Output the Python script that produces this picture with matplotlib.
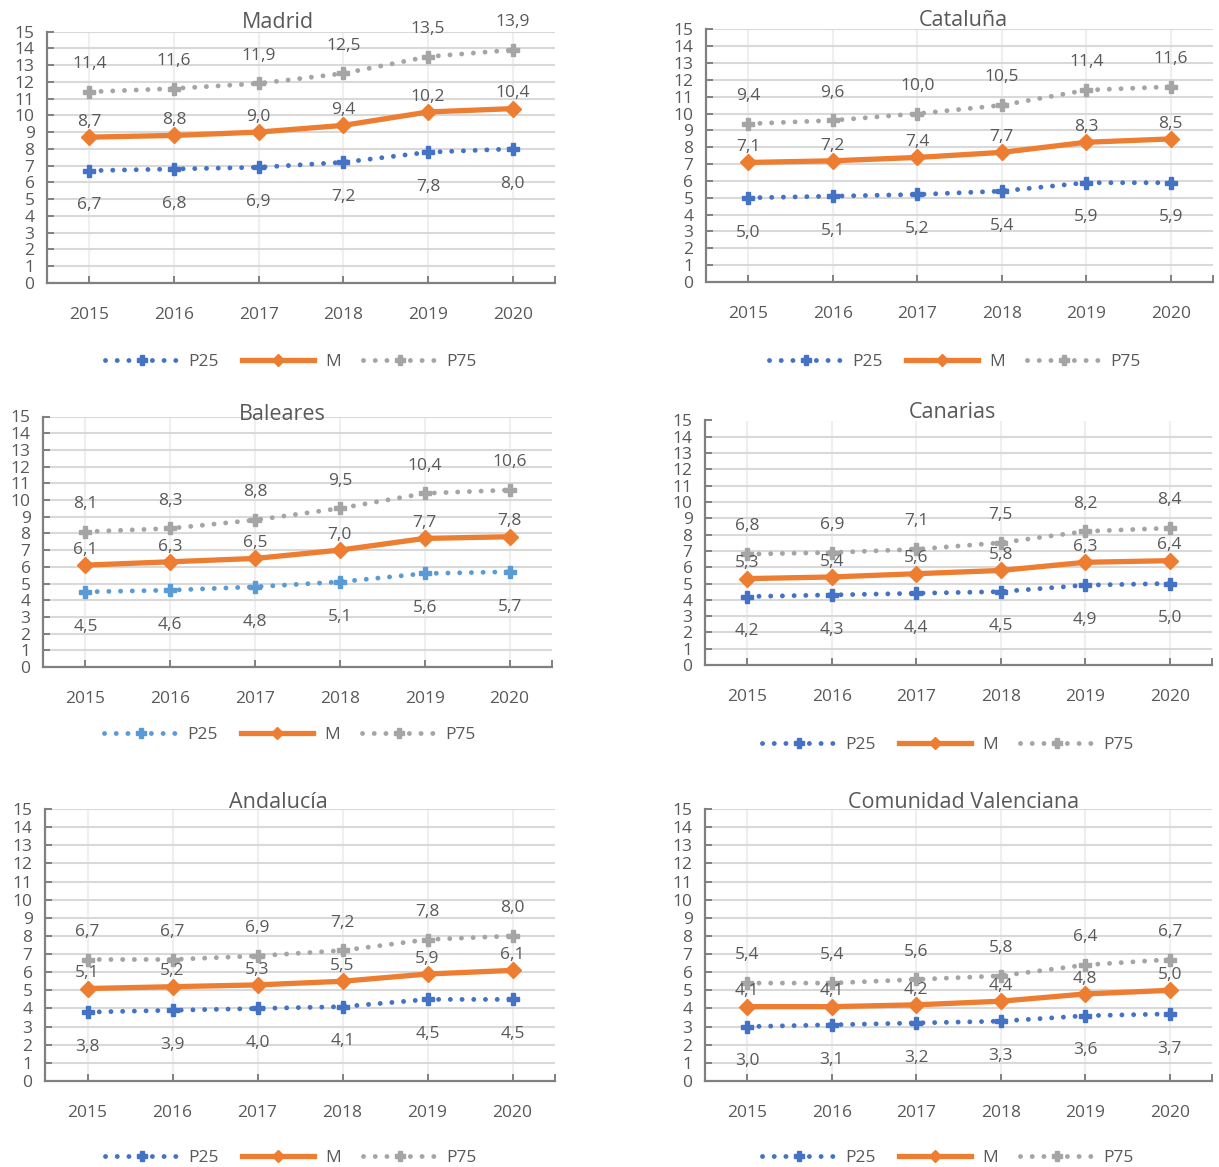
import matplotlib
matplotlib.use('Agg')
import matplotlib.pyplot as plt
import numpy as np

plt.rcParams['font.family'] = ['Open Sans', 'DejaVu Sans']

# Data
years = ['2015', '2016', '2017', '2018', '2019', '2020']
regions = ['Madrid', 'Cataluña', 'Baleares', 'Canarias', 'Andalucía', 'Comunidad Valenciana']

madrid_p25 = [6.7, 6.8, 6.9, 7.2, 7.8, 8.0]
madrid_m = [8.7, 8.8, 9.0, 9.4, 10.2, 10.4]
madrid_p75 = [11.4, 11.6, 11.9, 12.5, 13.5, 13.9]

cataluna_p25 = [5.0, 5.1, 5.2, 5.4, 5.9, 5.9]
cataluna_m = [7.1, 7.2, 7.4, 7.7, 8.3, 8.5]
cataluna_p75 = [9.4, 9.6, 10.0, 10.5, 11.4, 11.6]

baleares_p25 = [4.5, 4.6, 4.8, 5.1, 5.6, 5.7]
baleares_m = [6.1, 6.3, 6.5, 7.0, 7.7, 7.8]
baleares_p75 = [8.1, 8.3, 8.8, 9.5, 10.4, 10.6]

canarias_p25 = [4.2, 4.3, 4.4, 4.5, 4.9, 5.0]
canarias_m = [5.3, 5.4, 5.6, 5.8, 6.3, 6.4]
canarias_p75 = [6.8, 6.9, 7.1, 7.5, 8.2, 8.4]

andalucia_p25 = [3.8, 3.9, 4.0, 4.1, 4.5, 4.5]
andalucia_m = [5.1, 5.2, 5.3, 5.5, 5.9, 6.1]
andalucia_p75 = [6.7, 6.7, 6.9, 7.2, 7.8, 8.0]

valencia_p25 = [3.0, 3.1, 3.2, 3.3, 3.6, 3.7]
valencia_m = [4.1, 4.1, 4.2, 4.4, 4.8, 5.0]
valencia_p75 = [5.4, 5.4, 5.6, 5.8, 6.4, 6.7]

series = [
    (madrid_p25, madrid_m, madrid_p75),
    (cataluna_p25, cataluna_m, cataluna_p75),
    (baleares_p25, baleares_m, baleares_p75),
    (canarias_p25, canarias_m, canarias_p75),
    (andalucia_p25, andalucia_m, andalucia_p75),
    (valencia_p25, valencia_m, valencia_p75),
]

W, H = 1219, 1167
# layout in pixels: left, right, top, bottom, title x, title y, legend x, legend y
layout = [
    (47, 555, 31.5, 283, 278, 22, 291, 362),
    (706, 1213, 29.5, 282, 963, 20, 955, 362),
    (43, 552, 416.5, 667, 282, 414, 290, 735),
    (705, 1212, 420.5, 665, 952, 413, 948, 745),
    (45, 555, 809, 1081, 278, 802, 291, 1158),
    (705, 1212, 809, 1081, 964, 803, 948, 1158),
]

TXT = '#595959'
GRID = '#D9D9D9'
SPINE = '#808080'
ORANGE = '#ED7D31'
GREY = '#A5A5A5'

fig = plt.figure(figsize=(W / 100, H / 100), dpi=100)
x = np.arange(len(years))


def fmt(v):
    return f'{v:.1f}'.replace('.', ',')


for name, (p25, m, p75), lay in zip(regions, series, layout):
    l, r, t, b, tx, ty, lx, ly = lay
    ax = fig.add_axes([l / W, 1 - b / H, (r - l) / W, (b - t) / H])
    blue = '#5B9BD5' if name == 'Baleares' else '#4472C4'

    dot = (0, (0.01, 2.4))
    h1, = ax.plot(x, p25, color=blue, lw=3.5, linestyle=dot, dash_capstyle='round',
                  marker='P', markersize=9, label='P25', zorder=3)
    h2, = ax.plot(x, m, color=ORANGE, lw=3.8, marker='D', markersize=8,
                  label='M', zorder=4)
    h3, = ax.plot(x, p75, color=GREY, lw=3.5, linestyle=dot, dash_capstyle='round',
                  marker='P', markersize=9, label='P75', zorder=3)

    # data labels: P25 below, M and P75 above
    for vals, dy in [(p25, -25), (m, 11), (p75, 20)]:
        for xi, v in zip(x, vals):
            ax.annotate(fmt(v), (xi, v), xytext=(0, dy), textcoords='offset points',
                        ha='center', va='center', fontsize=12.5, color=TXT)

    ax.set_xlim(-0.5, 5.5)
    ax.set_ylim(0, 15)
    ax.set_yticks(range(0, 16))
    ax.set_xticks(x)
    ax.set_xticklabels(years)
    ax.set_xticks([5.5], minor=True)
    ax.grid(axis='y', color=GRID, lw=1.5, zorder=0)
    ax.grid(axis='x', color='#EFEFEF', lw=1.5, zorder=0)
    ax.set_axisbelow(True)
    for s in ['top', 'right']:
        ax.spines[s].set_visible(False)
    for s in ['left', 'bottom']:
        ax.spines[s].set_color(SPINE)
        ax.spines[s].set_linewidth(1.6)
    ax.tick_params(axis='y', direction='in', length=5, width=1.4, color=SPINE,
                   labelsize=12.5, labelcolor=TXT, pad=9)
    ax.tick_params(axis='x', which='both', direction='in', length=5, width=1.4,
                   color=SPINE, labelsize=12.5, labelcolor=TXT, pad=17)

    fig.text(tx / W, 1 - ty / H, name, ha='center', va='center', fontsize=15.5,
             color=TXT)
    fig.legend(handles=[h1, h2, h3], loc='center', bbox_to_anchor=(lx / W, 1 - ly / H),
               ncol=3, frameon=False, fontsize=12.5, handlelength=4.2, markerscale=0.75,
               handletextpad=0.6, columnspacing=1.3, labelcolor=TXT)

fig.savefig('out.png', dpi=100)
